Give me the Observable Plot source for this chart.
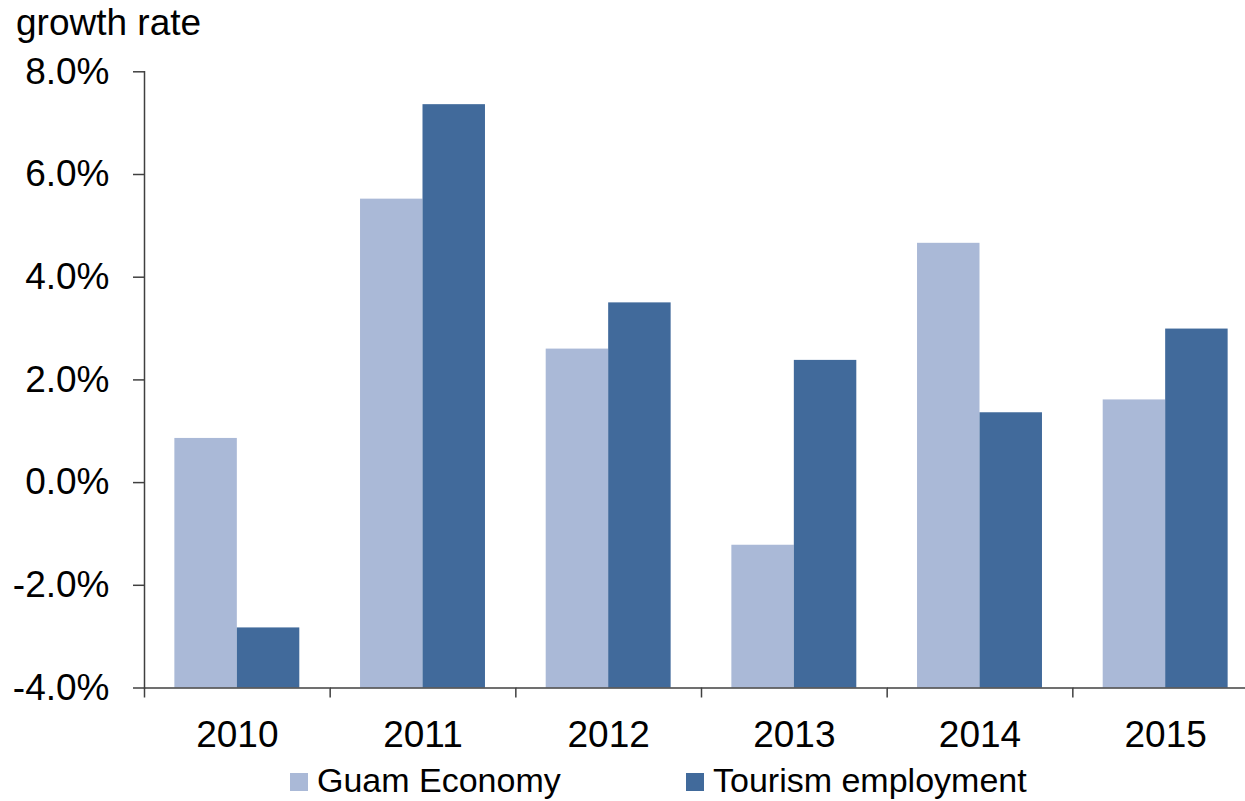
<!DOCTYPE html>
<html><head><meta charset="utf-8">
<script src="https://cdn.jsdelivr.net/npm/d3@7"></script>
<script src="https://cdn.jsdelivr.net/npm/@observablehq/plot@0.6"></script>
<style>
html,body{margin:0;padding:0;background:#fff;overflow:hidden;width:1245px;height:801px;}
#wrap{position:relative;width:1245px;height:801px;font-family:"Liberation Sans",Arial,sans-serif;color:#000;overflow:hidden;}
#title{position:absolute;left:16px;top:2px;font-size:37px;line-height:42px;white-space:nowrap;}
#chart{position:absolute;left:0;top:48px;}
.legend-item{position:absolute;top:760px;font-size:34px;line-height:40px;padding-left:27px;white-space:nowrap;}
.swatch{position:absolute;width:18px;height:18px;top:13px;left:0;}
</style></head>
<body>
<div id="wrap">
  <div id="title">growth rate</div>
  <div id="chart"></div>
  <div id="legend"></div>
</div>
<script>
const years = ["2010", "2011", "2012", "2013", "2014", "2015"];
const series = ["Guam Economy", "Tourism employment"];
const guamEconomy = [0.86, 5.52, 2.60, -1.22, 4.66, 1.61];
const tourismEmployment = [-2.83, 7.36, 3.50, 2.38, 1.36, 2.99];
const yDomain = [-4, 8];
const yTicks = [-4, -2, 0, 2, 4, 6, 8];
const colors = ["#aab9d7", "#416a9b"];
const axisColor = "#404040";

const data = [];
years.forEach((year, i) => {
  data.push({year, series: series[0], value: guamEconomy[i]});
  data.push({year, series: series[1], value: tourismEmployment[i]});
});

const W = 1258, ML = 144, MR = 0;
const band = (W - ML - MR) / years.length;

const chart = Plot.plot({
  width: W, height: 712,
  marginLeft: ML, marginRight: MR, marginTop: 23.3, marginBottom: 72.5,
  style: {fontFamily: '"Liberation Sans", Arial, sans-serif', fontSize: "37px", color: "#000", maxWidth: "none", overflow: "visible", background: "transparent"},
  fx: {domain: years, padding: 0, round: false, label: null},
  x: {domain: series, paddingInner: 0, paddingOuter: 0.486, round: false, axis: null},
  y: {domain: yDomain, axis: null},
  color: {domain: series, range: colors},
  marks: [
    Plot.barY(data, {fx: "year", x: "series", y1: yDomain[0], y2: "value", fill: "series"}),
    Plot.ruleY([yDomain[0]], {stroke: axisColor, strokeWidth: 1.5}),
    Plot.frame({anchor: "left", facetAnchor: "left", stroke: axisColor, strokeWidth: 1.5}),
    Plot.axisY({ticks: yTicks, tickSize: 11, tickPadding: 24, tickFormat: d => d.toFixed(1) + "%", label: null, fontSize: 37, stroke: axisColor, strokeWidth: 1.5}),
    Plot.axisFx({anchor: "bottom", tickSize: 0, tickPadding: 33, label: null, fontSize: 37}),
    Plot.axisFx({anchor: "bottom", tickSize: 10, dx: -band / 2, tickFormat: () => "", label: null, stroke: axisColor, strokeWidth: 1.5})
  ]
});
document.getElementById("chart").appendChild(chart);

const legendLefts = [290, 686];
const legend = document.getElementById("legend");
series.forEach((s, i) => {
  const item = document.createElement("div");
  item.className = "legend-item";
  item.style.left = legendLefts[i] + "px";
  const sw = document.createElement("span");
  sw.className = "swatch";
  sw.style.background = colors[i];
  item.appendChild(sw);
  item.appendChild(document.createTextNode(s));
  legend.appendChild(item);
});
</script>
</body></html>
